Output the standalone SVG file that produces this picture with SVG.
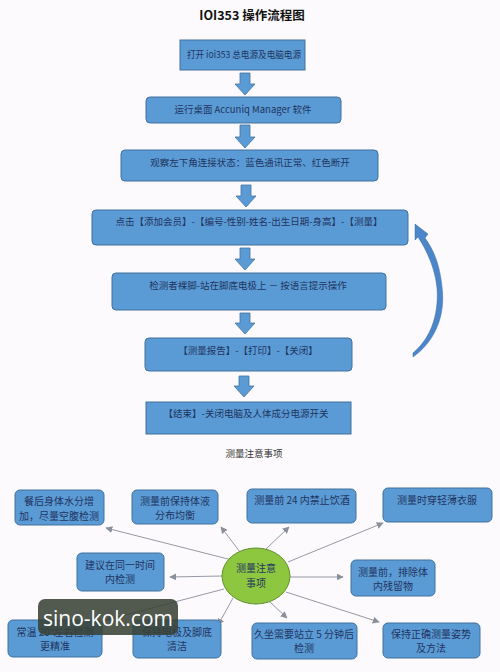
<svg xmlns="http://www.w3.org/2000/svg" width="500" height="672" viewBox="0 0 500 672">
<defs>
<style>
.bg{fill:#fcfafc}
.box{fill:#5b9bd5;stroke:#41719c;stroke-width:1}
.t{font-family:"Noto Sans CJK SC","Liberation Sans",sans-serif;font-size:9.5px;fill:#1f3460;text-anchor:middle}
.bt{font-family:"Noto Sans CJK SC","Liberation Sans",sans-serif;font-size:10px;fill:#1f3460;text-anchor:middle}
.barrow{fill:#5b9bd5;stroke:#41719c;stroke-width:0.8}
.conn{stroke:#8a8f9a;stroke-width:0.9;fill:none;marker-end:url(#ah)}
</style>
<marker id="ah" viewBox="0 0 10 10" refX="9" refY="5" markerWidth="7" markerHeight="7" orient="auto" markerUnits="userSpaceOnUse">
<path d="M0,0 L10,5 L0,10 Z" fill="#8a8f9a"/>
</marker>
</defs>
<rect class="bg" x="0" y="0" width="500" height="672"/>
<text x="252" y="20" font-family="'Noto Sans CJK SC','Liberation Sans',sans-serif" font-size="12.5" font-weight="bold" fill="#111" text-anchor="middle">IOI353  操作流程图</text>

<g id="flow-connectors">
<path class="barrow" d="M240,73 H250 V84 H255 L245,95 L235,84 H240 Z"/>
<path class="barrow" d="M240,125 H250 V137 H255 L245,148 L235,137 H240 Z"/>
<path class="barrow" d="M241,185 H251 V196 H256 L246,207 L236,196 H241 Z"/>
<path class="barrow" d="M240,248 H250 V259 H255 L245,270 L235,259 H240 Z"/>
<path class="barrow" d="M240,313 H250 V323 H255 L245,334 L235,323 H240 Z"/>
<path class="barrow" d="M239,376 H249 V386 H254 L244,397 L234,386 H239 Z"/>
<path d="M413,357 C433,343 446,318 442,287 C440,266 434,250 425,238 L428,234 L415,224 L415,240 L418,237 C427,251 435,268 437,288 C439,316 430,339 413,353 Z" fill="#4a86c8" stroke="#3a6ea5" stroke-width="0.5"/>
</g>

<g id="n1"><rect class="box" x="180" y="40" width="125" height="30"/><text class="t" x="244" y="58" textLength="114" lengthAdjust="spacingAndGlyphs">打开 ioi353 总电源及电脑电源</text></g>
<g id="n2"><rect class="box" x="146" y="97" width="195" height="26" rx="4"/><text class="t" x="243" y="113">运行桌面 Accuniq Manager 软件</text></g>
<g id="n3"><rect class="box" x="121" y="150" width="257" height="31" rx="4"/><text class="t" x="250" y="166">观察左下角连接状态：蓝色通讯正常、红色断开</text></g>
<g id="n4"><rect class="box" x="92" y="210" width="316" height="35" rx="4"/><text class="t" x="249" y="225">点击【添加会员】-【编号-性别-姓名-出生日期-身高】-【测量】</text></g>
<g id="n5"><rect class="box" x="112" y="273" width="274" height="37" rx="4"/><text class="t" x="248" y="289">检测者裸脚-站在脚底电极上 － 按语言提示操作</text></g>
<g id="n6"><rect class="box" x="145" y="338" width="207" height="33" rx="4"/><text class="t" x="248" y="354">【测量报告】-【打印】-【关闭】</text></g>
<g id="n7"><rect class="box" x="146" y="402" width="205" height="32"/><text class="t" x="246" y="417">【结束】-关闭电脑及人体成分电源开关</text></g>

<text x="254" y="457" font-family="'Noto Sans CJK SC','Liberation Sans',sans-serif" font-size="9.5" fill="#333" text-anchor="middle">测量注意事项</text>

<g id="note-connectors">
<line class="conn" x1="232" y1="560" x2="106" y2="528"/>
<line class="conn" x1="240" y1="552" x2="221" y2="527"/>
<line class="conn" x1="266" y1="549" x2="289" y2="527"/>
<line class="conn" x1="288" y1="562" x2="383" y2="523"/>
<line class="conn" x1="222" y1="576" x2="170" y2="577"/>
<line class="conn" x1="290" y1="577" x2="343" y2="577"/>
<line class="conn" x1="224" y1="589" x2="106" y2="620"/>
<line class="conn" x1="233" y1="598" x2="218" y2="625"/>
<line class="conn" x1="270" y1="602" x2="287" y2="618"/>
<line class="conn" x1="286" y1="592" x2="379" y2="622"/>
</g>

<g id="center"><ellipse cx="256" cy="576" rx="34" ry="28" fill="#8dc63f" stroke="#5e8f2a" stroke-width="1"/><text class="bt" x="256" y="572">测量注意</text><text class="bt" x="256" y="587">事项</text></g>

<g id="a"><rect class="box" x="15" y="490" width="89" height="35" rx="5"/><text class="bt" x="59" y="505">餐后身体水分增</text><text class="bt" x="59" y="520">加，尽量空腹检测</text></g>
<g id="b"><rect class="box" x="132" y="490" width="86" height="34" rx="5"/><text class="bt" x="175" y="505">测量前保持体液</text><text class="bt" x="175" y="519">分布均衡</text></g>
<g id="c"><rect class="box" x="247" y="489" width="109" height="34" rx="5"/><text class="bt" x="302" y="504">测量前 24 内禁止饮酒</text></g>
<g id="d"><rect class="box" x="383" y="488" width="109" height="34" rx="5"/><text class="bt" x="437" y="504">测量时穿轻薄衣服</text></g>
<g id="e"><rect class="box" x="77" y="553" width="87" height="38" rx="5"/><text class="bt" x="120" y="569">建议在同一时间</text><text class="bt" x="120" y="583">内检测</text></g>
<g id="f"><rect class="box" x="351" y="560" width="84" height="36" rx="5"/><text class="bt" x="393" y="576">测量前，排除体</text><text class="bt" x="393" y="590">内残留物</text></g>
<g id="g"><rect class="box" x="8" y="620" width="94" height="37" rx="5"/><text class="bt" x="55" y="636">常温 20°左右检测</text><text class="bt" x="55" y="650">更精准</text></g>
<g id="h"><rect class="box" x="133" y="620" width="88" height="38" rx="5"/><text class="bt" x="177" y="636">保持电极及脚底</text><text class="bt" x="177" y="650">清洁</text></g>
<g id="i"><rect class="box" x="252" y="623" width="105" height="36" rx="5"/><text class="bt" x="304" y="638">久坐需要站立 5 分钟后</text><text class="bt" x="304" y="652">检测</text></g>
<g id="j"><rect class="box" x="383" y="623" width="97" height="35" rx="5"/><text class="bt" x="431" y="638">保持正确测量姿势</text><text class="bt" x="431" y="652">及方法</text></g>

<g id="watermark"><rect x="38" y="599" width="140" height="36" rx="7" fill="#3a4236" fill-opacity="0.88"/><text x="108" y="626" font-family="'Open Sans','DejaVu Sans',sans-serif" font-size="21" fill="#ffffff" text-anchor="middle">sino-kok.com</text></g>
</svg>
